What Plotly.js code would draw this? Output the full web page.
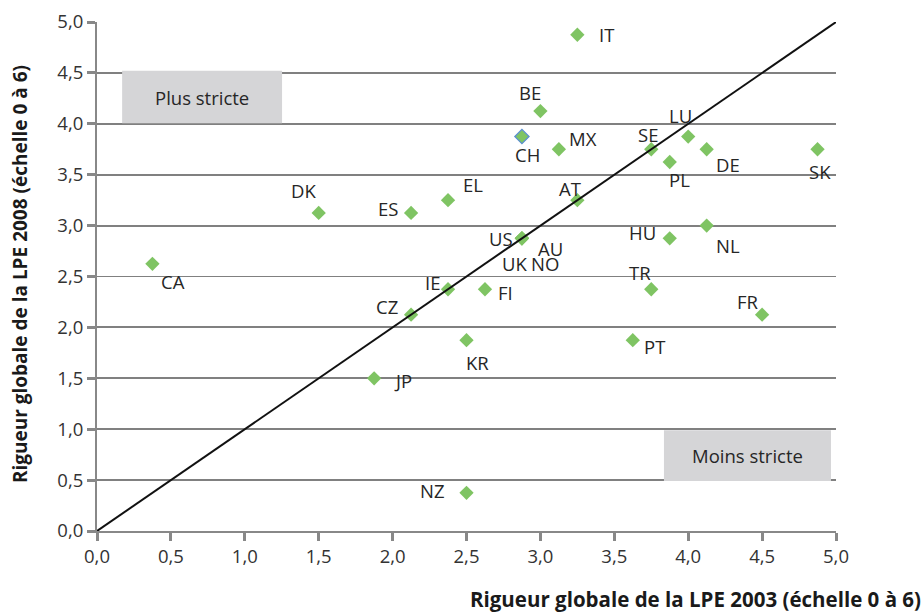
<!DOCTYPE html>
<html>
<head>
<meta charset="utf-8">
<script src="https://cdn.plot.ly/plotly-3.0.1.min.js"></script>
<style>
  html, body { margin: 0; padding: 0; background: #ffffff; }
  #chart { width: 922px; height: 615px; }
</style>
</head>
<body>
<div id="chart"></div>
<script>
// Strictness of employment protection legislation (EPL), 2003 vs 2008
const countries = ['IT','BE','CH','MX','LU','SE','DE','PL','SK','DK','ES','EL','AT',
                   'US','AU','UK','NO','HU','NL','CA','IE','FI','TR','CZ','FR','KR','PT','JP','NZ'];
const epl2003 = [3.25, 3.0, 2.875, 3.125, 4.0, 3.75, 4.125, 3.875, 4.875, 1.5, 2.125, 2.375, 3.25,
                 2.875, 2.875, 2.875, 2.875, 3.875, 4.125, 0.375, 2.375, 2.625, 3.75, 2.125, 4.5, 2.5, 3.625, 1.875, 2.5];
const epl2008 = [4.875, 4.125, 3.875, 3.75, 3.875, 3.75, 3.75, 3.625, 3.75, 3.125, 3.125, 3.25, 3.25,
                 2.875, 2.875, 2.875, 2.875, 2.875, 3.0, 2.625, 2.375, 2.375, 2.375, 2.125, 2.125, 1.875, 1.875, 1.5, 0.375];

// Label offsets from each marker, in pixels (right, down)
const labelDx = [29, -10, 6, 24, -8, -3, 21, 10, 2, -15, -23, 25, -7,
                 -21, 29, -7, 23, -27, 21, 21, -16, 21, -11, -24, -14, 11, 22, 29, -34];
const labelDy = [0, -19, 18, -11, -21, -15, 15, 18, 22, -22, -4, -16, -12,
                 0, 10, 25, 25, -6, 20, 18, -7, 3, -17, -8, -13, 22, 6, 2, -2];

// 45-degree reference line
const diagX = [0, 5];
const diagY = [0, 5];

// Shaded zone captions
const zoneText = ['Plus stricte', 'Moins stricte'];
const zoneX0 = [0.17, 3.836];
const zoneX1 = [1.252, 4.966];
const zoneY0 = [4.005, 0.49];
const zoneY1 = [4.52, 0.99];

const green = '#7fc463';
const markerLine = countries.map(c => c === 'CH' ? '#5b8fd0' : green);
const markerLineW = countries.map(c => c === 'CH' ? 1.2 : 0);

const font = 'Open Sans, Noto Sans, DejaVu Sans, sans-serif';
const labelSize = 18.5;

const traces = [
  {
    type: 'scatter', mode: 'markers',
    x: epl2003, y: epl2008, text: countries,
    marker: { symbol: 'diamond', size: 11, color: green,
              line: { color: markerLine, width: markerLineW } },
    hoverinfo: 'text+x+y', showlegend: false, cliponaxis: false
  },
  {
    type: 'scatter', mode: 'lines',
    x: diagX, y: diagY,
    line: { color: '#111111', width: 2 },
    hoverinfo: 'skip', showlegend: false
  }
];

const annotations = countries.map((c, i) => ({
  x: epl2003[i], y: epl2008[i], xref: 'x', yref: 'y',
  text: c, showarrow: false,
  xshift: labelDx[i], yshift: -labelDy[i],
  font: { family: font, size: labelSize, color: '#262626' }
}));

zoneText.forEach((t, i) => {
  annotations.push({
    x: (zoneX0[i] + zoneX1[i]) / 2, y: (zoneY0[i] + zoneY1[i]) / 2,
    xref: 'x', yref: 'y', text: t, showarrow: false,
    font: { family: font, size: labelSize, color: '#262626' }
  });
});

// Axis titles
annotations.push({
  xref: 'paper', yref: 'paper', x: 1.118, y: -0.102,
  xanchor: 'right', yanchor: 'top', showarrow: false,
  text: 'Rigueur globale de la LPE 2003 (échelle 0 à 6)',
  font: { family: font, size: 20.5, color: '#1a1a1a', weight: 700 }
});
annotations.push({
  xref: 'paper', yref: 'paper', x: -0.104, y: 0.505,
  xanchor: 'center', yanchor: 'middle', textangle: -90, showarrow: false,
  text: 'Rigueur globale de la LPE 2008 (échelle 0 à 6)',
  font: { family: font, size: 19, color: '#1a1a1a', weight: 700 }
});

const shapes = zoneText.map((t, i) => ({
  type: 'rect', xref: 'x', yref: 'y', layer: 'between',
  x0: zoneX0[i], x1: zoneX1[i], y0: zoneY0[i], y1: zoneY1[i],
  fillcolor: '#d5d5d7', line: { width: 0 }
}));

const axisCommon = {
  range: [0, 5], dtick: 0.5, tick0: 0, tickformat: '.1f',
  ticks: 'outside', ticklen: 8, tickwidth: 3, tickcolor: '#888888',
  showline: true, linecolor: '#888888', linewidth: 2,
  zeroline: false, fixedrange: true,
  tickfont: { family: font, size: 18.5, color: '#333333' }
};

const layout = {
  width: 922, height: 615,
  margin: { l: 97, r: 86, t: 22, b: 84 },
  paper_bgcolor: '#ffffff', plot_bgcolor: '#ffffff',
  separators: ', ',
  xaxis: Object.assign({}, axisCommon, { showgrid: false }),
  yaxis: Object.assign({}, axisCommon, { showgrid: true, gridcolor: '#808080', gridwidth: 1.8 }),
  shapes: shapes,
  annotations: annotations,
  showlegend: false
};

Plotly.newPlot('chart', traces, layout, { displayModeBar: false, staticPlot: true });
</script>
</body>
</html>
